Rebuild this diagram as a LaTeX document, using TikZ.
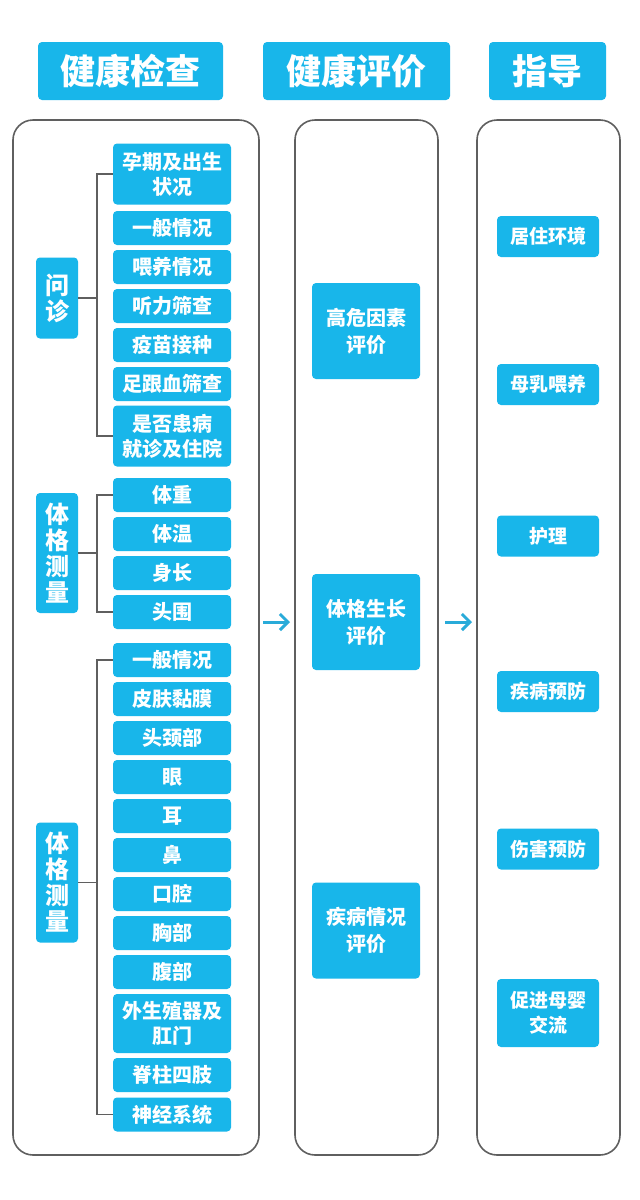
\documentclass[tikz,border=0pt]{standalone}
\usepackage{fontspec}
\setmainfont{Noto Sans CJK SC}
\usetikzlibrary{arrows.meta}
\definecolor{boxc}{RGB}{24,182,234}
\definecolor{linec}{RGB}{95,95,95}
\definecolor{arrc}{RGB}{41,171,217}
\tikzset{
  base/.style={fill=boxc, text=white, rounded corners=4pt, inner sep=0pt, align=center, font=\bfseries\fontsize{20}{25}\selectfont},
  item/.style={base, minimum width=118pt, minimum height=34pt},
  itemtwo/.style={item, minimum height=61pt},
  lab/.style={base, minimum width=42pt, font=\bfseries\fontsize{24}{26}\selectfont},
  head/.style={base, minimum height=58pt, font=\bfseries\fontsize{35}{40}\selectfont},
  mid/.style={base, minimum width=108pt, minimum height=96pt, font=\bfseries\fontsize{20}{27}\selectfont},
  rgt/.style={base, minimum width=102pt, minimum height=41pt, font=\bfseries\fontsize{19}{25}\selectfont},
  panel/.style={draw=linec, line width=1.6pt, rounded corners=20pt},
  brk/.style={draw=linec, line width=1.5pt},
  arr/.style={draw=arrc, line width=3pt, -{Straight Barb[length=8pt,width=16pt]}}
}
\begin{document}
\begin{tikzpicture}[x=1pt,y=-1pt]
\useasboundingbox[fill=white] (0,0) rectangle (640,1200);
% headers
\node[head, minimum width=185pt] (h1) at (130.5,71) {健康检查};
\node[head, minimum width=187pt] (h2) at (356.5,71) {健康评价};
\node[head, minimum width=117pt] (h3) at (547.5,71) {指导};
% panels
\draw[panel] (13,120) rectangle (259,1155);
\draw[panel] (295,120) rectangle (438,1155);
\draw[panel] (477,120) rectangle (620,1155);
\coordinate (p1e) at (259,622);
\coordinate (p2w) at (295,622);
\coordinate (p2e) at (438,622);
\coordinate (p3w) at (477,622);
% group 1
\node[lab, minimum height=81pt] (wz) at (57,298) {问\\诊};
\node[itemtwo] (q1) at (172,174) {孕期及出生\\状况};
\node[item] (q2) at (172,228) {一般情况};
\node[item] (q3) at (172,267) {喂养情况};
\node[item] (q4) at (172,306) {听力筛查};
\node[item] (q5) at (172,345) {疫苗接种};
\node[item] (q6) at (172,384) {足跟血筛查};
\node[itemtwo] (q7) at (172,436) {是否患病\\就诊及住院};
\coordinate (jq) at (97,298);
\draw[brk] (wz.east) -- (jq);
\draw[brk] (q1.west) -| (jq) |- (q7.west);
% group 2
\node[lab, minimum height=120pt] (tg1) at (57,553) {体\\格\\测\\量};
\node[item] (b1) at (172,495) {体重};
\node[item] (b2) at (172,534) {体温};
\node[item] (b3) at (172,573) {身长};
\node[item] (b4) at (172,612) {头围};
\coordinate (jb) at (97,553);
\draw[brk] (tg1.east) -- (jb);
\draw[brk] (b1.west) -| (jb) |- (b4.west);
% group 3
\node[lab, minimum height=120pt] (tg2) at (57,882.5) {体\\格\\测\\量};
\node[item] (c1) at (172,660) {一般情况};
\node[item] (c2) at (172,699) {皮肤黏膜};
\node[item] (c3) at (172,738) {头颈部};
\node[item] (c4) at (172,777) {眼};
\node[item] (c5) at (172,816) {耳};
\node[item] (c6) at (172,855) {鼻};
\node[item] (c7) at (172,894) {口腔};
\node[item] (c8) at (172,933) {胸部};
\node[item] (c9) at (172,972) {腹部};
\node[item, minimum height=59pt] (c10) at (172,1023.5) {外生殖器及\\肛门};
\node[item] (c11) at (172,1075) {脊柱四肢};
\node[item] (c12) at (172,1114.5) {神经系统};
\coordinate (jc) at (97,882.5);
\draw[brk] (tg2.east) -- (jc);
\draw[brk] (c1.west) -| (jc) |- (c12.west);
% middle
\node[mid] (m1) at (366,331) {高危因素\\评价};
\node[mid] (m2) at (366,622) {体格生长\\评价};
\node[mid] (m3) at (366,930.5) {疾病情况\\评价};
% right
\node[rgt] (r1) at (548,236.5) {居住环境};
\node[rgt] (r2) at (548,384.5) {母乳喂养};
\node[rgt] (r3) at (548,536) {护理};
\node[rgt] (r4) at (548,691.5) {疾病预防};
\node[rgt] (r5) at (548,849) {伤害预防};
\node[rgt, minimum height=68pt] (r6) at (548,1013) {促进母婴\\交流};
% arrows
\draw[arr, shorten <=4pt, shorten >=5pt] (p1e) -- (p2w);
\draw[arr, shorten <=7pt, shorten >=5pt] (p2e) -- (p3w);
\end{tikzpicture}
\end{document}
